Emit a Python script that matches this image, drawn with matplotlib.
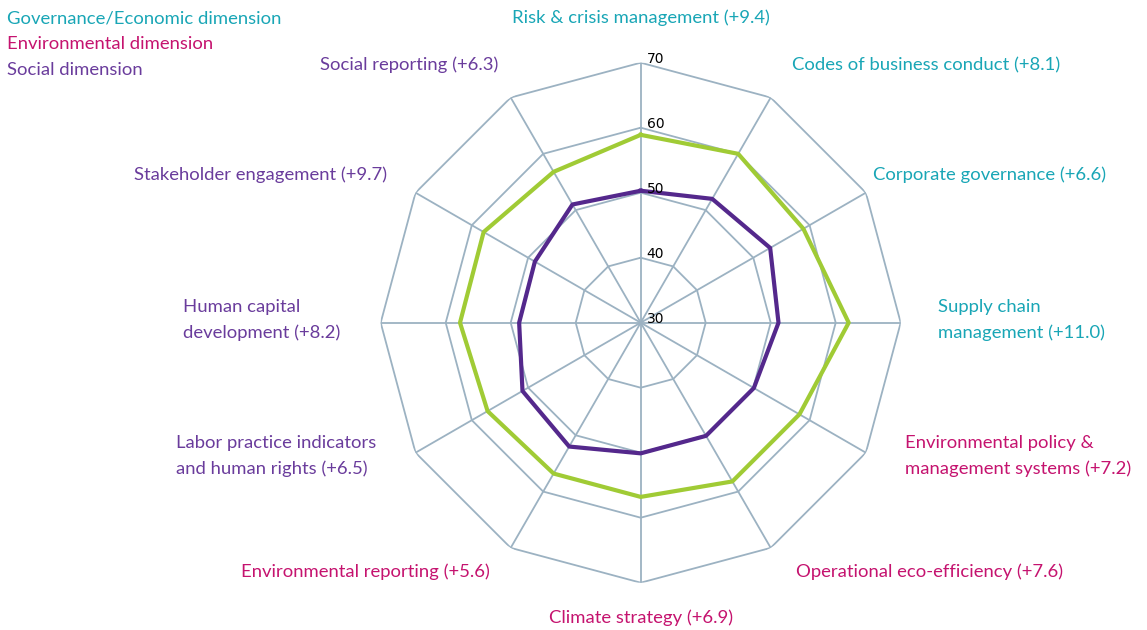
import numpy as np
import matplotlib
matplotlib.use("Agg")
import matplotlib.pyplot as plt

# clockwise from top
categories = ["Risk & crisis management (+9.4)", "Codes of business conduct (+8.1)",
              "Corporate governance (+6.6)", "Supply chain\nmanagement (+11.0)",
              "Environmental policy &\nmanagement systems (+7.2)", "Operational eco-efficiency (+7.6)",
              "Climate strategy (+6.9)", "Environmental reporting (+5.6)",
              "Labor practice indicators\nand human rights (+6.5)", "Human capital\ndevelopment (+8.2)",
              "Stakeholder engagement (+9.7)", "Social reporting (+6.3)"]
dimension = ["gov", "gov", "gov", "gov", "env", "env", "env", "env", "soc", "soc", "soc", "soc"]
green_vals = [58.9, 60.0, 58.9, 62.0, 58.2, 58.2, 56.8, 56.8, 57.2, 57.8, 57.9, 56.8]
purple_vals = [50.3, 52.0, 53.0, 51.2, 50.1, 50.1, 50.1, 52.0, 51.0, 48.7, 48.8, 51.0]
rings = [40, 50, 60, 70]
tick_labels = ["30", "40", "50", "60", "70"]

colors = {"gov": "#19a6b6", "env": "#c5136f", "soc": "#6a3c9c"}
grid_c = "#9cb2c2"

W, H = 1147, 630
fig = plt.figure(figsize=(W / 100, H / 100), dpi=100)
cx, cy, R = 640.7, 322.7, 260
ax = fig.add_axes([(cx - R) / W, (H - cy - R) / H, 2 * R / W, 2 * R / H], projection="polar")
ax.set_theta_zero_location("N")
ax.set_theta_direction(-1)
ax.set_ylim(30, 70)
ax.grid(False)
ax.spines["polar"].set_visible(False)
ax.set_xticks([])
ax.set_yticks([])
ax.patch.set_alpha(0)

n = len(categories)
theta = np.arange(n) * 2 * np.pi / n
th_c = np.append(theta, theta[0])

# polygon grid
for r in rings:
    ax.plot(th_c, [r] * (n + 1), color=grid_c, lw=1.3, zorder=1)
for t in theta:
    ax.plot([t, t], [30, 70], color=grid_c, lw=1.3, zorder=1)

ax.plot(th_c, green_vals + green_vals[:1], color="#a0cb35", lw=3, zorder=3)
ax.plot(th_c, purple_vals + purple_vals[:1], color="#54288c", lw=3, zorder=4)

for i, lab in enumerate(tick_labels):
    ax.annotate(lab, (0, 30 + 10 * i), xytext=(6, 4), textcoords="offset pixels",
                ha="left", va="center", fontsize=10, color="black", zorder=5)

# label placement in pixels (x, y of anchor, ha)
label_pos = [(641, 18, "center"), (792, 65, "left"), (873, 175, "left"), (938, 320, "left"),
             (905, 456, "left"), (796, 572, "left"), (641, 618, "center"), (490, 572, "right"),
             (176, 456, "left"), (183, 320, "left"), (387, 175, "right"), (498, 65, "right")]
font = ["Lato", "DejaVu Sans"]
for lab, d, (x, y, ha) in zip(categories, dimension, label_pos):
    fig.text(x / W, 1 - y / H, lab, ha=ha, va="center", color=colors[d],
             fontsize=13.3, family=font, linespacing=1.63)

legend = [("Governance/Economic dimension", "gov"), ("Environmental dimension", "env"),
          ("Social dimension", "soc")]
for i, (txt, d) in enumerate(legend):
    fig.text(7 / W, 1 - (18 + 26 * i) / H, txt, ha="left", va="center",
             color=colors[d], fontsize=13.3, family=font)

fig.savefig("out.png", dpi=100)
